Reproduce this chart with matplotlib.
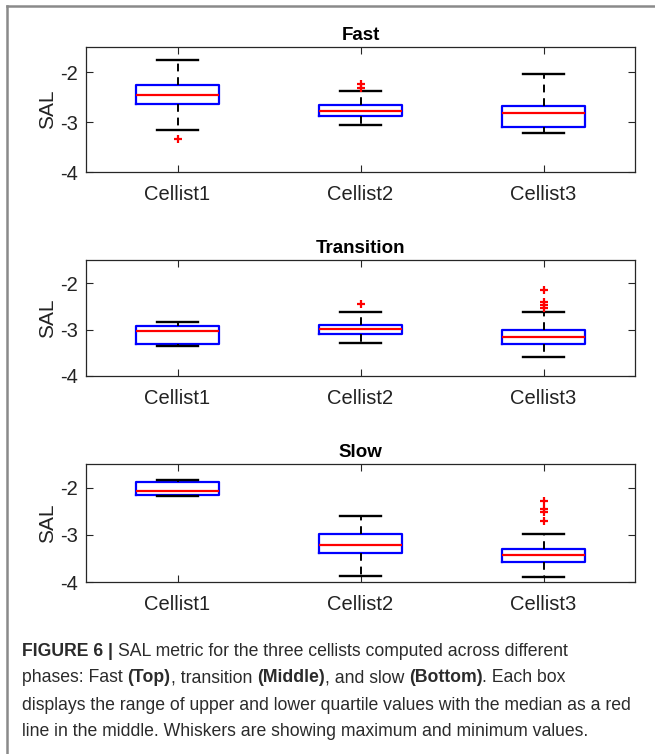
import matplotlib
matplotlib.use('Agg')
import matplotlib.pyplot as plt
from matplotlib.lines import Line2D

plt.rcParams['font.family'] = ['Liberation Sans', 'DejaVu Sans']
plt.rcParams['axes.unicode_minus'] = False

cellists = ['Cellist1', 'Cellist2', 'Cellist3']
phases = ['Fast', 'Transition', 'Slow']

# box stats: lower whisker, q1, median, q3, upper whisker, outliers
fast_lo = [-3.15, -3.06, -3.21]
fast_q1 = [-2.63, -2.87, -3.10]
fast_med = [-2.45, -2.77, -2.82]
fast_q3 = [-2.26, -2.66, -2.67]
fast_hi = [-1.76, -2.38, -2.05]
fast_out = [[-3.33], [-2.23, -2.31], []]

trans_lo = [-3.35, -3.29, -3.60]
trans_q1 = [-3.30, -3.10, -3.31]
trans_med = [-3.04, -2.99, -3.15]
trans_q3 = [-2.93, -2.90, -3.01]
trans_hi = [-2.84, -2.61, -2.61]
trans_out = [[], [-2.45], [-2.15, -2.40, -2.47, -2.53]]

slow_lo = [-2.17, -3.87, -3.90]
slow_q1 = [-2.15, -3.39, -3.57]
slow_med = [-2.08, -3.22, -3.43]
slow_q3 = [-1.89, -2.98, -3.31]
slow_hi = [-1.83, -2.61, -2.98]
slow_out = [[], [], [-2.29, -2.45, -2.52, -2.70]]

panels = [
    (fast_lo, fast_q1, fast_med, fast_q3, fast_hi, fast_out),
    (trans_lo, trans_q1, trans_med, trans_q3, trans_hi, trans_out),
    (slow_lo, slow_q1, slow_med, slow_q3, slow_hi, slow_out),
]

W, H = 655, 754
fig = plt.figure(figsize=(W / 100, H / 100), dpi=100)
fig.patch.set_facecolor('white')

# axes extents in pixels (top, bottom)
L, R = 86, 635
extents = [(47, 172), (260, 376), (464, 582)]
edge = '#262626'

for phase, (lo, q1, med, q3, hi, out), (top, bot) in zip(phases, panels, extents):
    ax = fig.add_axes([L / W, 1 - bot / H, (R - L) / W, (bot - top) / H])
    stats = []
    for i in range(3):
        stats.append(dict(whislo=lo[i], q1=q1[i], med=med[i], q3=q3[i],
                          whishi=hi[i], fliers=out[i]))
    ax.bxp(stats, positions=[1, 2, 3], widths=0.45, capwidths=0.225,
           manage_ticks=False,
           boxprops=dict(color='#0000ff', linewidth=1.6),
           medianprops=dict(color='#ff0000', linewidth=1.6),
           whiskerprops=dict(color='black', linestyle=(0, (4, 3)), linewidth=1.4),
           capprops=dict(color='black', linewidth=1.7),
           flierprops=dict(marker='+', markeredgecolor='#ff0000', markersize=6,
                           markeredgewidth=1.6, linestyle='none'))
    ax.set_xlim(0.5, 3.5)
    ax.set_ylim(-4, -1.5)
    ax.set_xticks([1, 2, 3], cellists)
    ax.set_yticks([-4, -3, -2])
    ax.tick_params(direction='in', length=5, width=0.8, top=True, right=True,
                   labelsize=14.5, pad=6, color=edge, labelcolor='#222222')
    ax.tick_params(axis='x', pad=9.5)
    for s in ax.spines.values():
        s.set_color(edge)
        s.set_linewidth(0.9)
    ax.set_ylabel('SAL', fontsize=15, labelpad=2, color='#222222')
    ax.set_title(phase, fontweight='bold', fontsize=13.5, pad=5)

# gray frame of the figure page
fig.add_artist(Line2D([7 / W, 1], [1 - 6 / H, 1 - 6 / H], transform=fig.transFigure,
                      color='#8a8a8a', linewidth=1.8))
fig.add_artist(Line2D([7 / W, 7 / W], [0, 1 - 6 / H], transform=fig.transFigure,
                      color='#8a8a8a', linewidth=1.8))

# caption with mixed bold pieces
caption = [
    [('FIGURE 6 |', 'bold'), ('SAL metric for the three cellists computed across different', 'normal')],
    [('phases: Fast', 'normal'), ('(Top)', 'bold'), (', transition', 'normal'),
     ('(Middle)', 'bold'), (', and slow', 'normal'), ('(Bottom)', 'bold'), ('. Each box', 'normal')],
    [('displays the range of upper and lower quartile values with the median as a red', 'normal')],
    [('line in the middle. Whiskers are showing maximum and minimum values.', 'normal')],
]
cap_size = 12.7
cap_color = '#2b2b2b'
line_y = [651, 678, 705, 732]

renderer = fig.canvas.get_renderer()
probe1 = fig.text(0, 0, 'x x', fontsize=cap_size)
probe2 = fig.text(0, 0, 'xx', fontsize=cap_size)
space_w = (probe1.get_window_extent(renderer).width
           - probe2.get_window_extent(renderer).width)
probe1.remove()
probe2.remove()

for pieces, y in zip(caption, line_y):
    x = 22
    for k, (txt, wt) in enumerate(pieces):
        t = fig.text(x / W, 1 - y / H, txt, fontsize=cap_size, fontweight=wt,
                     color=cap_color, va='center', ha='left')
        x += t.get_window_extent(renderer).width
        nxt = pieces[k + 1][0] if k + 1 < len(pieces) else ''
        if nxt.startswith(',') or nxt.startswith('.'):
            continue
        x += space_w

fig.savefig('out.png', dpi=100, facecolor='white')
